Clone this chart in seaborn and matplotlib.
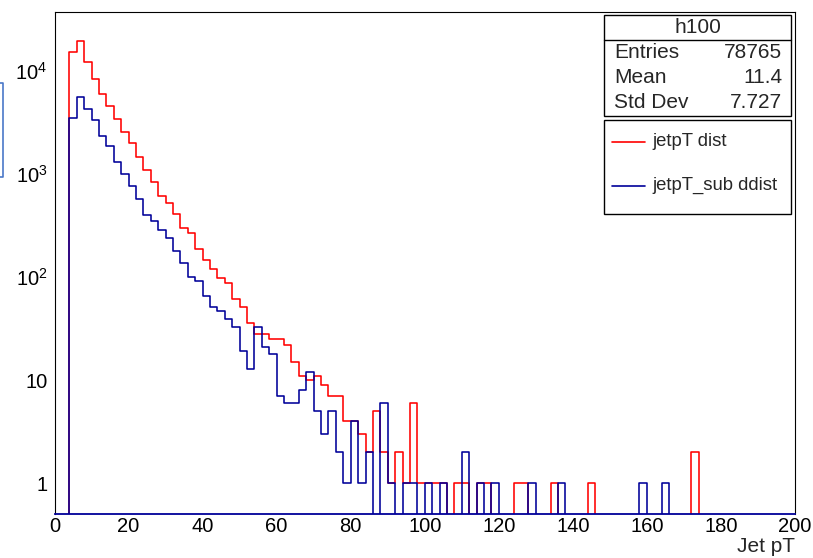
import numpy as np
import pandas as pd
import matplotlib
matplotlib.use("Agg")
import matplotlib.pyplot as plt
import seaborn as sns
from matplotlib.ticker import FixedLocator, FixedFormatter, MultipleLocator, NullFormatter
from matplotlib.patches import Rectangle
from matplotlib.lines import Line2D

# ---------------- data (bin width 2 GeV, 0..200) ----------------
bin_edges = list(range(0, 202, 2))

jetpT_dist = [
    0, 0, 15200, 19500, 12100, 8260, 5900, 4580, 3430, 2530,
    1980, 1460, 1090, 830, 615, 526, 409, 299, 266, 188,
    146, 121, 97, 87, 61, 51, 36, 28, 28, 25,
    25, 22, 15, 11, 10, 11, 9, 7, 7, 4,
    4, 3, 2, 5, 2, 1, 2, 1, 6, 1,
    1, 1, 1, 0, 1, 1, 0, 1, 1, 0,
    0, 0, 1, 1, 0, 0, 0, 1, 0, 0,
    0, 0, 1, 0, 0, 0, 0, 0, 0, 0,
    0, 0, 0, 0, 0, 0, 2, 0, 0, 0,
    0, 0, 0, 0, 0, 0, 0, 0, 0, 0,
]

jetpT_sub_ddist = [
    0, 0, 3510, 5520, 4230, 3300, 2330, 1860, 1290, 1000,
    769, 571, 403, 350, 288, 238, 179, 137, 100, 92,
    66, 51, 47, 39, 33, 19, 13, 33, 21, 18,
    7, 6, 6, 8, 12, 5, 3, 5, 2, 1,
    4, 1, 2, 0, 6, 1, 0, 1, 1, 0,
    1, 0, 1, 0, 0, 2, 0, 1, 0, 1,
    0, 0, 0, 0, 1, 0, 0, 0, 1, 0,
    0, 0, 0, 0, 0, 0, 0, 0, 0, 1,
    0, 0, 1, 0, 0, 0, 0, 0, 0, 0,
    0, 0, 0, 0, 0, 0, 0, 0, 0, 0,
]

series_names = ["jetpT dist", "jetpT_sub ddist"]
hist_name = "h100"
stat_labels = ["Entries", "Mean", "Std Dev"]
stat_values = ["78765", "11.4", "7.727"]
y_tick_values = [1, 10, 100, 1000, 10000]
y_tick_labels = ["1", "10", r"$\mathregular{10^{2}}$", r"$\mathregular{10^{3}}$", r"$\mathregular{10^{4}}$"]
x_label = "Jet pT"

RED = "#ff0000"
BLUE = "#000099"

# ---------------- style ----------------
sns.set_style("white")
plt.rcParams["font.family"] = ["Liberation Sans", "DejaVu Sans"]
plt.rcParams["mathtext.fontset"] = "custom"
plt.rcParams["mathtext.rm"] = "Liberation Sans"
plt.rcParams["mathtext.it"] = "Liberation Sans:italic"

W, H = 813, 558
fig = plt.figure(figsize=(W / 100, H / 100), dpi=100)
fig.patch.set_facecolor("white")

def fx(x):
    return x / W

def fy(y):
    return 1 - y / H

ax_l, ax_r, ax_t, ax_b = 54.5, 795, 12, 514
ax = fig.add_axes([fx(ax_l), fy(ax_b), fx(ax_r) - fx(ax_l), fy(ax_t) - fy(ax_b)])

edges = [float(e) for e in bin_edges]
centers = [(a + b) / 2 for a, b in zip(bin_edges[:-1], bin_edges[1:])]
df = pd.DataFrame({
    "pt": centers + centers,
    "count": [float(v) for v in jetpT_dist + jetpT_sub_ddist],
    "series": [series_names[0]] * len(centers) + [series_names[1]] * len(centers),
})

for name, col in zip(series_names, [RED, BLUE]):
    sns.histplot(data=df[df["series"] == name], x="pt", weights="count",
                 bins=edges, element="step", fill=False, color=col,
                 linewidth=1.15, ax=ax)

ax.set_yscale("log")
ax.set_xlim(0, 200)
ax.set_ylim(0.506, 37000)
ax.set_xlabel("")
ax.set_ylabel("")

ax.yaxis.set_major_locator(FixedLocator(y_tick_values))
ax.yaxis.set_major_formatter(FixedFormatter(y_tick_labels))
minors = [m * 10.0 ** d for d in range(-1, 5) for m in range(2, 10)]
ax.yaxis.set_minor_locator(FixedLocator(minors))
ax.yaxis.set_minor_formatter(NullFormatter())
ax.xaxis.set_major_locator(MultipleLocator(20))
ax.xaxis.set_minor_locator(MultipleLocator(5))

ax.tick_params(axis="both", which="both", direction="in", colors="black",
               top=False, right=False, labelsize=14.5, width=0.8)
ax.tick_params(axis="y", which="major", length=15.8, pad=5)
ax.tick_params(axis="y", which="minor", length=8)
ax.tick_params(axis="x", which="major", length=10.8, pad=2)
ax.tick_params(axis="x", which="minor", length=5.4)

for s in ["left", "top", "right"]:
    ax.spines[s].set_color("black")
    ax.spines[s].set_linewidth(0.8)
ax.spines["bottom"].set_color(BLUE)
ax.spines["bottom"].set_linewidth(1.3)
ax.grid(False)

fig.text(fx(795), fy(547), x_label, ha="right", va="center", fontsize=15)

# ---------------- stats box ----------------
bx0, bx1 = 604, 791
def box(y0, y1):
    r = Rectangle((fx(bx0), fy(y1)), fx(bx1) - fx(bx0), fy(y0) - fy(y1),
                  transform=fig.transFigure, facecolor="white",
                  edgecolor="black", linewidth=1.0, zorder=5)
    fig.add_artist(r)

box(15, 116)
fig.add_artist(Line2D([fx(bx0), fx(bx1)], [fy(40), fy(40)], transform=fig.transFigure,
                      color="black", linewidth=1.0, zorder=6))
fig.text(fx((bx0 + bx1) / 2), fy(27.5), hist_name, ha="center", va="center",
         fontsize=15, zorder=7)
for i, (lab, val) in enumerate(zip(stat_labels, stat_values)):
    yy = 53 + i * 24.5
    fig.text(fx(614), fy(yy), lab, ha="left", va="center", fontsize=15, zorder=7)
    fig.text(fx(782), fy(yy), val, ha="right", va="center", fontsize=15, zorder=7)

# ---------------- legend box ----------------
box(120, 214)
for i, (name, col) in enumerate(zip(series_names, [RED, BLUE])):
    yy = 142 + i * 44
    fig.add_artist(Line2D([fx(612), fx(645)], [fy(yy), fy(yy)], transform=fig.transFigure,
                          color=col, linewidth=1.2, zorder=7))
    fig.text(fx(652), fy(yy - 1), name, ha="left", va="center", fontsize=13.3, zorder=7)

# partial box at the far left edge
fig.add_artist(Line2D([fx(0), fx(3), fx(3), fx(0)], [fy(83), fy(83), fy(177), fy(177)],
                      transform=fig.transFigure, color="#4a78c8", linewidth=1.2))

fig.savefig("out.png", dpi=100, facecolor="white")
